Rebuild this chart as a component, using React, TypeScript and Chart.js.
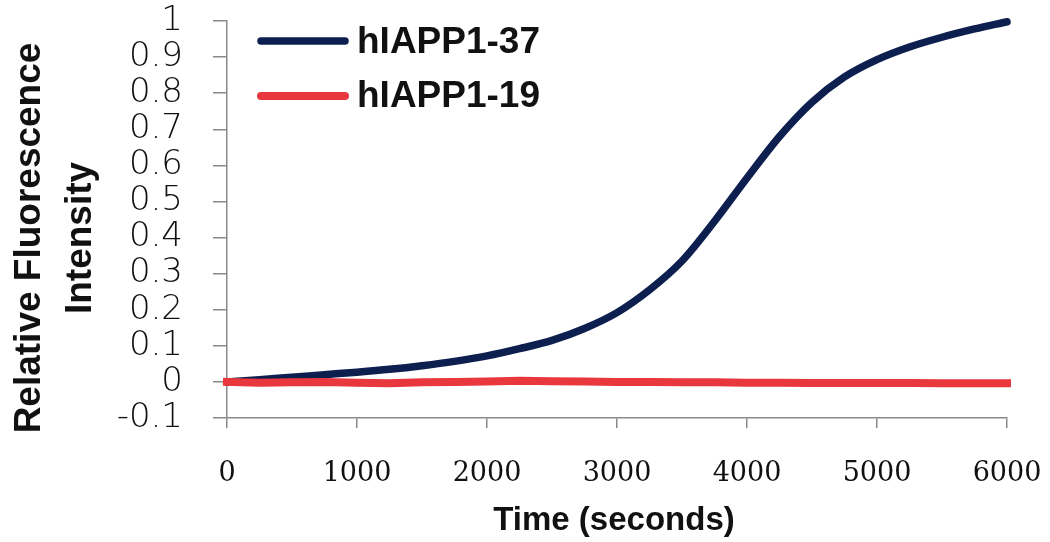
import React, { useEffect, useRef } from "react";
import { Chart, registerables } from "chart.js";

Chart.register(...registerables);

// ---- data ----
const timeSeconds = [
  0, 250, 500, 750, 1000, 1250, 1500, 1750, 2000, 2250, 2500, 2750, 3000,
  3250, 3500, 3750, 4000, 4250, 4500, 4750, 5000, 5250, 5500, 5750, 6000,
];
const hIAPP1_37 = [
  0.0, 0.006, 0.013, 0.02, 0.027, 0.035, 0.045, 0.057, 0.072, 0.092, 0.115,
  0.148, 0.192, 0.255, 0.335, 0.445, 0.565, 0.68, 0.775, 0.845, 0.893, 0.928,
  0.955, 0.978, 0.998,
];
const hIAPP1_19 = [
  0.0, -0.002, -0.001, 0.0, -0.002, -0.004, -0.001, 0.0, 0.001, 0.003, 0.002,
  0.001, 0.0, 0.0, -0.001, -0.001, -0.002, -0.002, -0.003, -0.003, -0.003,
  -0.003, -0.004, -0.004, -0.004,
];
const seriesLabels = ["hIAPP1-37", "hIAPP1-19"];
const seriesColors = ["#0c1f4f", "#e8373d"];
const xTitle = "Time (seconds)";
const yTitleLines = ["Relative Fluorescence", "Intensity"];
const xMin = 0;
const xMax = 6000;
const xStep = 1000;
const yMin = -0.1;
const yMax = 1;
const yStep = 0.1;

const AXIS_GRAY = "#8a8a8a";

const overlayPlugin = {
  id: "overlay",
  afterDraw(chart: any) {
    const ctx = chart.ctx as CanvasRenderingContext2D;
    ctx.save();
    // y axis title (two rotated lines)
    ctx.fillStyle = "#111";
    ctx.font = 'bold 37px "Liberation Sans", Arial, sans-serif';
    ctx.textAlign = "center";
    ctx.textBaseline = "alphabetic";
    const baselines = [40, 91];
    yTitleLines.forEach((line, i) => {
      ctx.save();
      ctx.translate(baselines[i], 238);
      ctx.rotate(-Math.PI / 2);
      ctx.fillText(line, 0, 0);
      ctx.restore();
    });
    // x axis title
    ctx.font = 'bold 33px "Liberation Sans", Arial, sans-serif';
    ctx.fillText(xTitle, 614, 530);

    // legend
    const items = chart.data.datasets
      .map((d: any, i: number) => ({ d, i }))
      .sort((a: any, b: any) => a.d.legendIndex - b.d.legendIndex);
    items.forEach(({ d }: any, k: number) => {
      const ly = 41 + k * 55;
      ctx.strokeStyle = d.borderColor;
      ctx.lineWidth = d.borderWidth;
      ctx.lineCap = "round";
      ctx.beginPath();
      ctx.moveTo(261, ly);
      ctx.lineTo(345, ly);
      ctx.stroke();
      ctx.fillStyle = "#111";
      ctx.font = 'bold 37px "Liberation Sans", Arial, sans-serif';
      ctx.textAlign = "left";
      ctx.textBaseline = "alphabetic";
      ctx.fillText(d.label, 357, 53 + k * 54);
    });
    ctx.restore();
  },
};

export default function App() {
  const canvasRef = useRef<HTMLCanvasElement | null>(null);

  useEffect(() => {
    const canvas = canvasRef.current;
    if (!canvas) return;
    const blue = timeSeconds.map((x, i) => ({ x, y: hIAPP1_37[i] }));
    const red = timeSeconds.map((x, i) => ({ x, y: hIAPP1_19[i] }));
    const chart = new Chart(canvas, {
      type: "line",
      data: {
        datasets: [
          {
            label: seriesLabels[0],
            data: blue,
            borderColor: seriesColors[0],
            backgroundColor: seriesColors[0],
            borderWidth: 7.5,
            pointRadius: 0,
            tension: 0.4,
            cubicInterpolationMode: "monotone",
            borderCapStyle: "round",
            clip: false,
            order: 1,
            legendIndex: 0,
          } as any,
          {
            label: seriesLabels[1],
            data: red,
            borderColor: seriesColors[1],
            backgroundColor: seriesColors[1],
            borderWidth: 8,
            pointRadius: 0,
            tension: 0,
            borderCapStyle: "square",
            clip: false,
            order: 0,
            legendIndex: 1,
          } as any,
        ],
      },
      options: {
        animation: false,
        responsive: false,
        maintainAspectRatio: false,
        layout: { padding: { top: 21, right: 43, left: 0, bottom: 0 } },
        plugins: {
          legend: { display: false },
          tooltip: { enabled: false },
          title: { display: false },
        },
        scales: {
          x: {
            type: "linear",
            min: xMin,
            max: xMax,
            afterFit(scale: any) {
              scale.height = 124;
              scale.paddingLeft = 0;
              scale.paddingRight = 0;
              scale.paddingTop = 0;
              scale.paddingBottom = 0;
            },
            ticks: {
              stepSize: xStep,
              autoSkip: false,
              maxRotation: 0,
              padding: 30,
              color: "#111",
              font: { family: '"DejaVu Serif", serif', size: 27 },
              callback: (v: any) => String(Math.round(Number(v))),
            },
            grid: {
              drawOnChartArea: false,
              drawTicks: true,
              tickLength: 10,
              color: AXIS_GRAY,
              lineWidth: 1.5,
            },
            border: { display: true, color: AXIS_GRAY, width: 1.5 },
          },
          y: {
            type: "linear",
            min: yMin,
            max: yMax,
            afterFit(scale: any) {
              scale.width = 227;
              scale.paddingLeft = 0;
              scale.paddingRight = 0;
              scale.paddingTop = 0;
              scale.paddingBottom = 0;
            },
            ticks: {
              stepSize: yStep,
              autoSkip: false,
              padding: 30,
              color: "#111",
              font: { family: '"DejaVu Sans", sans-serif', size: 34, weight: "200" as any },
              callback: (v: any) => String(Math.round(Number(v) * 10) / 10),
            },
            grid: {
              drawOnChartArea: false,
              drawTicks: true,
              tickLength: 14,
              color: AXIS_GRAY,
              lineWidth: 1.5,
            },
            border: { display: true, color: AXIS_GRAY, width: 1.5 },
          },
        },
      },
      plugins: [overlayPlugin],
    });
    return () => chart.destroy();
  }, []);

  return (
    <div style={{ position: "absolute", left: 0, top: 0, width: 1050, height: 542, background: "#fff" }}>
      <canvas ref={canvasRef} width={1050} height={542} />
    </div>
  );
}
